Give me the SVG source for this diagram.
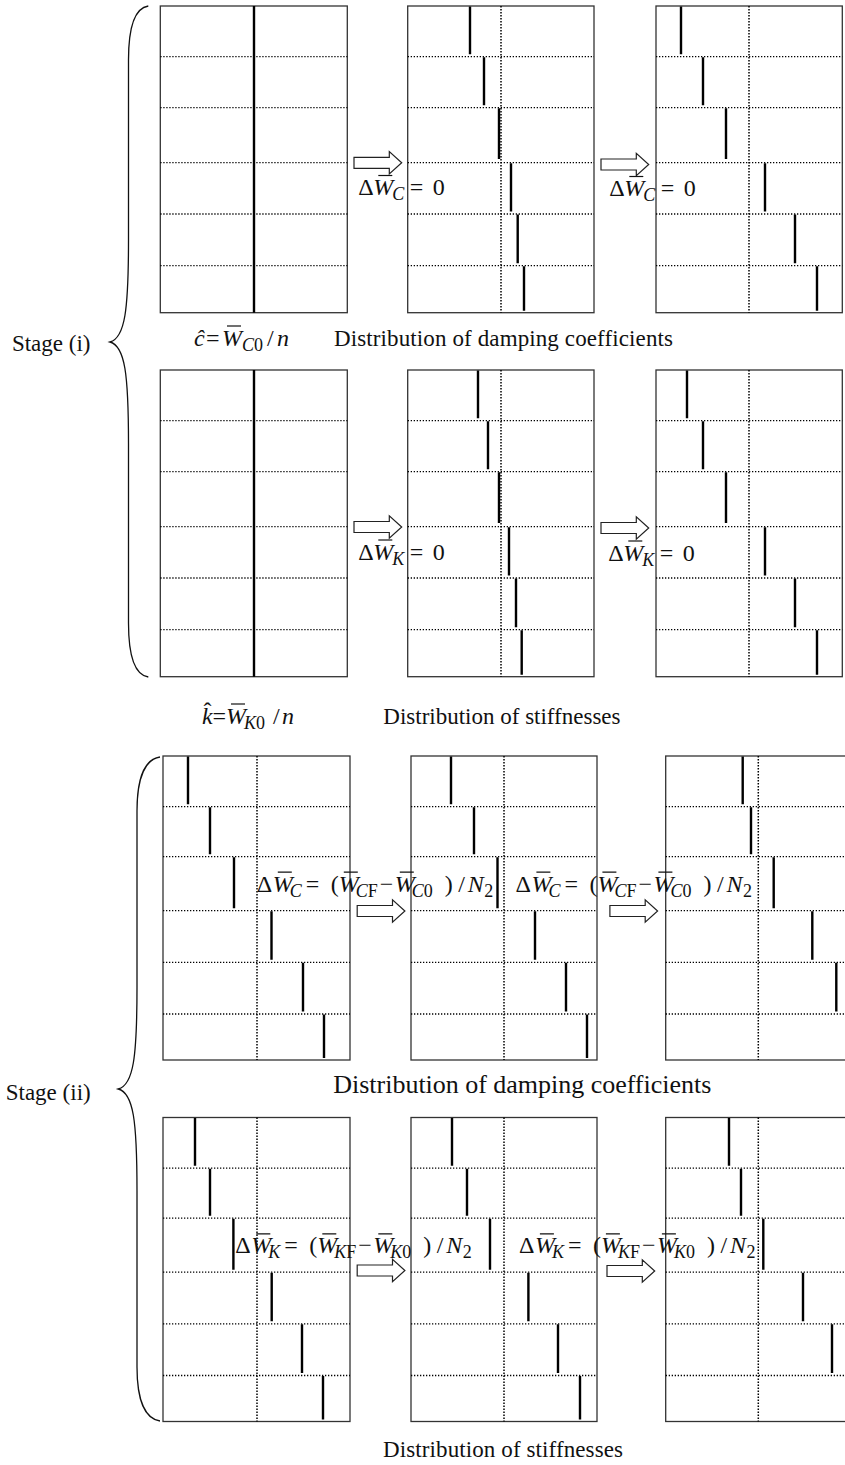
<svg xmlns="http://www.w3.org/2000/svg" width="845" height="1465" viewBox="0 0 845 1465">
<defs>
<style>
.frame{fill:none;stroke:#333;stroke-width:1.3}
.dot{stroke:#000;stroke-width:1.3;stroke-dasharray:1.3 1.7;fill:none}
.vdot{stroke:#000;stroke-width:1.5;stroke-dasharray:1.5 1.5;fill:none}
.bar{stroke:#000;stroke-width:2.4}
.brace{fill:none;stroke:#111;stroke-width:1.3}
.ob{stroke:#111;stroke-width:1.2}
text{font-family:"Liberation Serif","Times New Roman",serif;fill:#111}
.cap{font-size:23px}
.f{font-size:24px}
.i{font-style:italic}
.s{font-size:18px}
</style>
<path id="arrow" fill="#fff" stroke="#222" stroke-width="1.2" d="M0,-5.5 H35.3 V-11.2 L47.7,0 L35.3,11.2 V5.5 H0 Z"/>
</defs>
<rect width="845" height="1465" fill="#fff"/>

<!-- Stage (i) damping -->
<g id="stage1-damping-p1">
<rect class="frame" x="160.3" y="6" width="187" height="306.7"/>
<path class="dot" d="M160.3,56.7H347.3M160.3,107.7H347.3M160.3,162.7H347.3M160.3,214H347.3M160.3,265.7H347.3"/>
<line class="bar" x1="254" y1="6" x2="254" y2="312.7"/>
</g>
<g id="stage1-damping-p2">
<rect class="frame" x="407.7" y="6" width="186.3" height="306.7"/>
<path class="dot" d="M407.7,56.7H594M407.7,107.7H594M407.7,162.7H594M407.7,214H594M407.7,265.7H594"/>
<line class="vdot" x1="501" y1="6" x2="501" y2="312.7"/>
<path class="bar" d="M470,6.5V54.2M484,57.2V105.2M499,108.2V159M511,163.2V211.5M517.7,214.5V263.2M524,266.2V310.7"/>
</g>
<g id="stage1-damping-p3">
<rect class="frame" x="656" y="6" width="186.3" height="306.7"/>
<path class="dot" d="M656,56.7H842.3M656,107.7H842.3M656,162.7H842.3M656,214H842.3M656,265.7H842.3"/>
<line class="vdot" x1="749" y1="6" x2="749" y2="312.7"/>
<path class="bar" d="M681,6.5V54.2M703,57.2V105.2M726,108.2V159M765,163.2V211.5M795,214.5V263.2M817,266.2V310.7"/>
</g>

<!-- Stage (i) stiffness -->
<g id="stage1-stiff-p1">
<rect class="frame" x="160.3" y="370" width="187" height="306.7"/>
<path class="dot" d="M160.3,420.7H347.3M160.3,471.7H347.3M160.3,526.7H347.3M160.3,578H347.3M160.3,629.7H347.3"/>
<line class="bar" x1="254" y1="370" x2="254" y2="676.7"/>
</g>
<g id="stage1-stiff-p2">
<rect class="frame" x="407.7" y="370" width="186.3" height="306.7"/>
<path class="dot" d="M407.7,420.7H594M407.7,471.7H594M407.7,526.7H594M407.7,578H594M407.7,629.7H594"/>
<line class="vdot" x1="501" y1="370" x2="501" y2="676.7"/>
<path class="bar" d="M478,370.5V418.2M488,421.2V469.2M499,472.2V523M509,527.2V575.5M516,578.5V627.2M521.7,630.2V674.7"/>
</g>
<g id="stage1-stiff-p3">
<rect class="frame" x="656" y="370" width="186.3" height="306.7"/>
<path class="dot" d="M656,420.7H842.3M656,471.7H842.3M656,526.7H842.3M656,578H842.3M656,629.7H842.3"/>
<line class="vdot" x1="749" y1="370" x2="749" y2="676.7"/>
<path class="bar" d="M687,370.5V418.2M703,421.2V469.2M726,472.2V523M765,527.2V575.5M795,578.5V627.2M817,630.2V674.7"/>
</g>

<!-- Stage (ii) damping -->
<g id="stage2-damping-p1">
<rect class="frame" x="163" y="756" width="187" height="304"/>
<path class="dot" d="M163,806.7H350M163,856.7H350M163,910.7H350M163,962.3H350M163,1014H350"/>
<line class="vdot" x1="257" y1="756" x2="257" y2="1060"/>
<path class="bar" d="M188,756.5V804.2M210,807.2V854.2M234,857.2V908.2M271.5,911.2V959.8M303,962.8V1011.5M324,1014.5V1058"/>
</g>
<g id="stage2-damping-p2">
<rect class="frame" x="411" y="756" width="186" height="304"/>
<path class="dot" d="M411,806.7H597M411,856.7H597M411,910.7H597M411,962.3H597M411,1014H597"/>
<line class="vdot" x1="504" y1="756" x2="504" y2="1060"/>
<path class="bar" d="M451,756.5V804.2M474,807.2V854.2M497.5,857.2V908.2M535,911.2V959.8M566,962.8V1011.5M587,1014.5V1058"/>
</g>
<g id="stage2-damping-p3">
<rect class="frame" x="665.7" y="756" width="187" height="304"/>
<path class="dot" d="M665.7,806.7H852.7M665.7,856.7H852.7M665.7,910.7H852.7M665.7,962.3H852.7M665.7,1014H852.7"/>
<line class="vdot" x1="758.3" y1="756" x2="758.3" y2="1060"/>
<path class="bar" d="M742.7,756.5V804.2M751,807.2V854.2M773.7,857.2V908.2M812.3,911.2V959.8M836.3,962.8V1011.5"/>
</g>

<!-- Stage (ii) stiffness -->
<g id="stage2-stiff-p1">
<rect class="frame" x="163" y="1117.5" width="187" height="304"/>
<path class="dot" d="M163,1168.2H350M163,1218.2H350M163,1272.2H350M163,1323.8H350M163,1375.5H350"/>
<line class="vdot" x1="257" y1="1117.5" x2="257" y2="1421.5"/>
<path class="bar" d="M195,1118V1165.7M210,1168.7V1215.7M233.4,1218.7V1269.7M271.7,1272.7V1321.3M302,1324.3V1373M323,1376V1419.5"/>
</g>
<g id="stage2-stiff-p2">
<rect class="frame" x="411" y="1117.5" width="186" height="304"/>
<path class="dot" d="M411,1168.2H597M411,1218.2H597M411,1272.2H597M411,1323.8H597M411,1375.5H597"/>
<line class="vdot" x1="504" y1="1117.5" x2="504" y2="1421.5"/>
<path class="bar" d="M452,1118V1165.7M467,1168.7V1215.7M490,1218.7V1269.7M528.4,1272.7V1321.3M558,1324.3V1373M580,1376V1419.5"/>
</g>
<g id="stage2-stiff-p3">
<rect class="frame" x="665.7" y="1117.5" width="187" height="304"/>
<path class="dot" d="M665.7,1168.2H852.7M665.7,1218.2H852.7M665.7,1272.2H852.7M665.7,1323.8H852.7M665.7,1375.5H852.7"/>
<line class="vdot" x1="758.3" y1="1117.5" x2="758.3" y2="1421.5"/>
<path class="bar" d="M729,1118V1165.7M741,1168.7V1215.7M763.3,1218.7V1269.7M803,1272.7V1321.3M832,1324.3V1373"/>
</g>

<!-- connectors -->
<g id="connectors">
<use href="#arrow" transform="translate(354,162.8)"/>
<use href="#arrow" transform="translate(601,164.5)"/>
<use href="#arrow" transform="translate(354,527)"/>
<use href="#arrow" transform="translate(601,528)"/>
<use href="#arrow" transform="translate(357.2,911)"/>
<use href="#arrow" transform="translate(609.9,911)"/>
<use href="#arrow" transform="translate(357.2,1270.5)"/>
<use href="#arrow" transform="translate(607,1271)"/>
</g>

<!-- braces -->
<g id="brace-stage1">
<path class="brace" d="M148.3,6 C135,8 128.5,25 128.5,60 L128.5,240 C128.5,310 125,338 110,342 C125,346 128.5,374 128.5,444 L128.5,623 C128.5,658 135,675 148.3,677"/>
<text class="cap" x="90.5" y="351" text-anchor="end">Stage (i)</text>
</g>
<g id="brace-stage2">
<path class="brace" d="M160,757 C146,759 137,776 137,811 L137,987 C137,1057 133.5,1085 118.3,1089 C133.5,1093 137,1121 137,1191 L137,1367 C137,1402 146,1419 160,1421"/>
<text class="cap" x="90.7" y="1100" text-anchor="end">Stage (ii)</text>
</g>

<!-- stage (i) labels -->
<g id="label-dWc-1">
<text class="f"><tspan x="358.3" y="195">Δ</tspan><tspan class="i" x="373.3" y="195">W</tspan><tspan class="i s" x="392.3" y="200">C</tspan><tspan x="409.8" y="195">=</tspan><tspan x="432.8" y="195">0</tspan></text>
<line class="ob" x1="378.3" y1="175.5" x2="392.3" y2="175.5"/>
</g>
<g id="label-dWc-2">
<text class="f"><tspan x="609.3" y="196">Δ</tspan><tspan class="i" x="624.3" y="196">W</tspan><tspan class="i s" x="643.3" y="201">C</tspan><tspan x="660.8" y="196">=</tspan><tspan x="683.8" y="196">0</tspan></text>
<line class="ob" x1="629.3" y1="176.5" x2="643.3" y2="176.5"/>
</g>
<g id="label-dWk-1">
<text class="f"><tspan x="358.3" y="559.5">Δ</tspan><tspan class="i" x="373.3" y="559.5">W</tspan><tspan class="i s" x="392.3" y="564.5">K</tspan><tspan x="409.8" y="559.5">=</tspan><tspan x="432.8" y="559.5">0</tspan></text>
<line class="ob" x1="378.3" y1="540" x2="392.3" y2="540"/>
</g>
<g id="label-dWk-2">
<text class="f"><tspan x="608.3" y="560.5">Δ</tspan><tspan class="i" x="623.3" y="560.5">W</tspan><tspan class="i s" x="642.3" y="565.5">K</tspan><tspan x="659.8" y="560.5">=</tspan><tspan x="682.8" y="560.5">0</tspan></text>
<line class="ob" x1="628.3" y1="541" x2="642.3" y2="541"/>
</g>
<g id="caption-c-hat">
<text class="f"><tspan class="i" x="194" y="345.5">ĉ</tspan><tspan x="206" y="345.5">=</tspan><tspan class="i" x="222" y="345.5">W</tspan><tspan class="i s" x="242" y="350.5">C</tspan><tspan class="s" x="254" y="350.5">0</tspan><tspan x="267" y="345.5">/</tspan><tspan class="i" x="277" y="345.5">n</tspan></text>
<line class="ob" x1="227" y1="326" x2="241" y2="326"/>
</g>
<text class="cap" x="334" y="345.5" textLength="339" lengthAdjust="spacing">Distribution of damping coefficients</text>
<g id="caption-k-hat">
<text class="f"><tspan class="i" x="202" y="723.5">k</tspan><tspan x="203.5" y="718.5">ˆ</tspan><tspan x="212.5" y="723.5">=</tspan><tspan class="i" x="226" y="723.5">W</tspan><tspan class="i s" x="244" y="728.5">K</tspan><tspan class="s" x="256" y="728.5">0</tspan><tspan x="273" y="723.5">/</tspan><tspan class="i" x="282" y="723.5">n</tspan></text>
<line class="ob" x1="231" y1="704" x2="245" y2="704"/>
</g>
<text class="cap" x="383.3" y="723.5">Distribution of stiffnesses</text>

<!-- stage (ii) labels -->
<g id="label-dWc-3">
<text class="f"><tspan x="256.8" y="891.7">Δ</tspan><tspan class="i" x="272.8" y="891.7">W</tspan><tspan class="i s" x="289.8" y="896.7">C</tspan><tspan x="305.8" y="891.7">=</tspan><tspan x="330.8" y="891.7">(</tspan><tspan class="i" x="338.8" y="891.7">W</tspan><tspan class="i s" x="355.8" y="896.7">C</tspan><tspan class="s" x="367.8" y="896.7">F</tspan><tspan x="379.8" y="891.7">−</tspan><tspan class="i" x="394.8" y="891.7">W</tspan><tspan class="i s" x="411.8" y="896.7">C</tspan><tspan class="s" x="423.8" y="896.7">0</tspan><tspan x="444.8" y="891.7">)</tspan><tspan x="458.3" y="891.7">/</tspan><tspan class="i" x="467.8" y="891.7">N</tspan><tspan class="s" x="484.3" y="896.7">2</tspan></text>
<path class="ob" d="M277.8,872.2H291.8M343.8,872.2H357.8M399.8,872.2H413.8"/>
</g>
<g id="label-dWc-4">
<text class="f"><tspan x="515.4" y="891.7">Δ</tspan><tspan class="i" x="531.4" y="891.7">W</tspan><tspan class="i s" x="548.4" y="896.7">C</tspan><tspan x="564.4" y="891.7">=</tspan><tspan x="589.4" y="891.7">(</tspan><tspan class="i" x="597.4" y="891.7">W</tspan><tspan class="i s" x="614.4" y="896.7">C</tspan><tspan class="s" x="626.4" y="896.7">F</tspan><tspan x="638.4" y="891.7">−</tspan><tspan class="i" x="653.4" y="891.7">W</tspan><tspan class="i s" x="670.4" y="896.7">C</tspan><tspan class="s" x="682.4" y="896.7">0</tspan><tspan x="703.4" y="891.7">)</tspan><tspan x="716.9" y="891.7">/</tspan><tspan class="i" x="726.4" y="891.7">N</tspan><tspan class="s" x="742.9" y="896.7">2</tspan></text>
<path class="ob" d="M536.4,872.2H550.4M602.4,872.2H616.4M658.4,872.2H672.4"/>
</g>
<g id="label-dWk-3">
<text class="f"><tspan x="235.3" y="1253.3">Δ</tspan><tspan class="i" x="251.3" y="1253.3">W</tspan><tspan class="i s" x="268.3" y="1258.3">K</tspan><tspan x="284.3" y="1253.3">=</tspan><tspan x="309.3" y="1253.3">(</tspan><tspan class="i" x="317.3" y="1253.3">W</tspan><tspan class="i s" x="334.3" y="1258.3">K</tspan><tspan class="s" x="346.3" y="1258.3">F</tspan><tspan x="358.3" y="1253.3">−</tspan><tspan class="i" x="373.3" y="1253.3">W</tspan><tspan class="i s" x="390.3" y="1258.3">K</tspan><tspan class="s" x="402.3" y="1258.3">0</tspan><tspan x="423.3" y="1253.3">)</tspan><tspan x="436.8" y="1253.3">/</tspan><tspan class="i" x="446.3" y="1253.3">N</tspan><tspan class="s" x="462.8" y="1258.3">2</tspan></text>
<path class="ob" d="M256.3,1233.8H270.3M322.3,1233.8H336.3M378.3,1233.8H392.3"/>
</g>
<g id="label-dWk-4">
<text class="f"><tspan x="518.9" y="1253.3">Δ</tspan><tspan class="i" x="534.9" y="1253.3">W</tspan><tspan class="i s" x="551.9" y="1258.3">K</tspan><tspan x="567.9" y="1253.3">=</tspan><tspan x="592.9" y="1253.3">(</tspan><tspan class="i" x="600.9" y="1253.3">W</tspan><tspan class="i s" x="617.9" y="1258.3">K</tspan><tspan class="s" x="629.9" y="1258.3">F</tspan><tspan x="641.9" y="1253.3">−</tspan><tspan class="i" x="656.9" y="1253.3">W</tspan><tspan class="i s" x="673.9" y="1258.3">K</tspan><tspan class="s" x="685.9" y="1258.3">0</tspan><tspan x="706.9" y="1253.3">)</tspan><tspan x="720.4" y="1253.3">/</tspan><tspan class="i" x="729.9" y="1253.3">N</tspan><tspan class="s" x="746.4" y="1258.3">2</tspan></text>
<path class="ob" d="M539.9,1233.8H553.9M605.9,1233.8H619.9M661.9,1233.8H675.9"/>
</g>
<text class="cap" x="333.3" y="1093.3" style="font-size:26px" textLength="378" lengthAdjust="spacing">Distribution of damping coefficients</text>
<text class="cap" x="383" y="1457" textLength="240" lengthAdjust="spacing">Distribution of stiffnesses</text>
</svg>
